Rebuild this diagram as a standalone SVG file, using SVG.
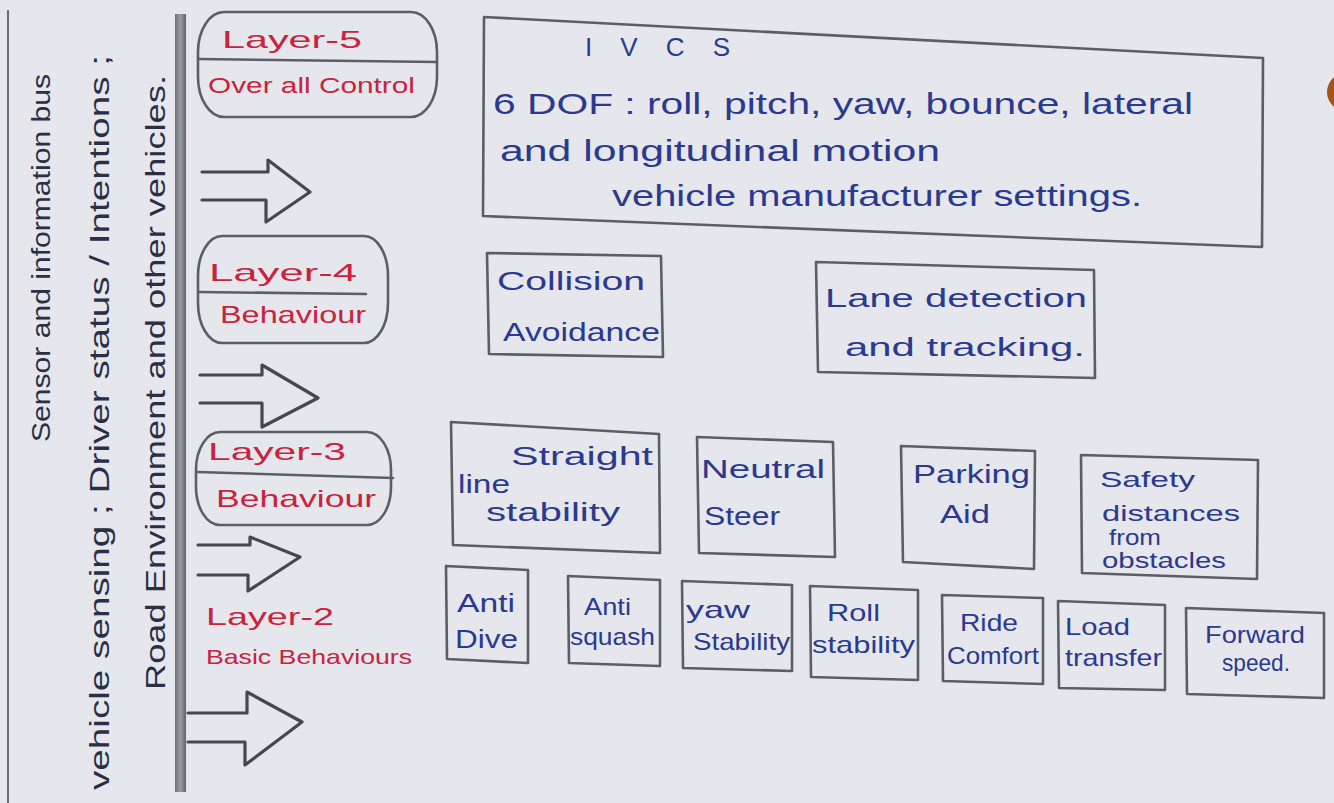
<svg xmlns="http://www.w3.org/2000/svg" width="1334" height="803" viewBox="0 0 1334 803">
<defs>
<style>
.pen{fill:none;stroke:#5b5e64;stroke-width:2.6;stroke-linejoin:round;stroke-linecap:round}
.arrow{fill:none;stroke:#45484e;stroke-width:3.2;stroke-linejoin:round;stroke-linecap:round}
.blue{font-family:"Liberation Sans","DejaVu Sans",sans-serif;fill:#2b3a8f;lengthAdjust:spacingAndGlyphs}
.red{font-family:"Liberation Sans","DejaVu Sans",sans-serif;fill:#c8233f}
.side{font-family:"Liberation Sans","DejaVu Sans",sans-serif;fill:#2a2f45}
</style>
<linearGradient id="bar" x1="0" y1="0" x2="1" y2="0">
<stop offset="0" stop-color="#6c6f75"/><stop offset="0.5" stop-color="#9a9da3"/><stop offset="1" stop-color="#5f6268"/>
</linearGradient>
</defs>
<rect width="1334" height="803" fill="#e5e7ec"/>
<circle cx="1346" cy="92" r="19" fill="#a55318"/>

<g id="bus">
<line x1="8" y1="10" x2="8" y2="803" stroke="#6a6d73" stroke-width="2"/>
<rect x="175" y="14" width="11" height="778" fill="url(#bar)"/>
<text class="side" font-size="26" transform="translate(50,442) rotate(-90)" textLength="368" lengthAdjust="spacingAndGlyphs">Sensor and information bus</text>
<text class="side" font-size="28" transform="translate(109,790) rotate(-90)" textLength="735" lengthAdjust="spacingAndGlyphs">vehicle sensing ; Driver status / Intentions ;</text>
<text class="side" font-size="28" transform="translate(165,690) rotate(-90)" textLength="615" lengthAdjust="spacingAndGlyphs">Road Environment and other vehicles.</text>
</g>

<g id="layer5">
<rect class="pen" x="198" y="12" width="239" height="105" rx="26" ry="40"/>
<line class="pen" x1="199" y1="59" x2="437" y2="62"/>
<text class="red" font-size="24" x="222" y="48" textLength="140" lengthAdjust="spacingAndGlyphs">Layer-5</text>
<text class="red" font-size="22" x="208" y="93" textLength="207" lengthAdjust="spacingAndGlyphs">Over all Control</text>
</g>
<g id="layer4">
<rect class="pen" x="198" y="236" width="190" height="107" rx="24" ry="40"/>
<line class="pen" x1="199" y1="292" x2="366" y2="294"/>
<text class="red" font-size="24" x="209" y="281" textLength="148" lengthAdjust="spacingAndGlyphs">Layer-4</text>
<text class="red" font-size="24" x="220" y="323" textLength="146" lengthAdjust="spacingAndGlyphs">Behaviour</text>
</g>
<g id="layer3">
<rect class="pen" x="196" y="432" width="195" height="93" rx="24" ry="38"/>
<line class="pen" x1="197" y1="472" x2="393" y2="478"/>
<text class="red" font-size="24" x="208" y="460" textLength="138" lengthAdjust="spacingAndGlyphs">Layer-3</text>
<text class="red" font-size="24" x="216" y="507" textLength="160" lengthAdjust="spacingAndGlyphs">Behaviour</text>
</g>
<g id="layer2">
<text class="red" font-size="24" x="206" y="625" textLength="128" lengthAdjust="spacingAndGlyphs">Layer-2</text>
<text class="red" font-size="21" x="206" y="664" textLength="206" lengthAdjust="spacingAndGlyphs">Basic Behaviours</text>
</g>

<g id="connectors">
<path class="arrow" d="M202,172 L268,172 L268,160 L310,192 L266,222 L266,200 L202,200"/>
<path class="arrow" d="M200,375 L262,375 L262,365 L318,398 L262,427 L262,403 L200,403"/>
<path class="arrow" d="M198,545 L250,545 L250,537 L300,557 L248,591 L248,575 L198,575"/>
<path class="arrow" d="M188,713 L247,713 L247,692 L302,722 L245,765 L245,742 L188,742"/>
</g>

<g id="ivcs">
<polygon class="pen" points="484,17 1263,58 1262,247 483,216"/>
<text class="blue" font-size="26" x="585" y="56" textLength="145" lengthAdjust="spacing">I V C S</text>
<text class="blue" font-size="30" x="493" y="114" textLength="700" lengthAdjust="spacingAndGlyphs">6 DOF : roll, pitch, yaw, bounce, lateral</text>
<text class="blue" font-size="30" x="500" y="161" textLength="440" lengthAdjust="spacingAndGlyphs">and longitudinal motion</text>
<text class="blue" font-size="30" x="612" y="206" textLength="530" lengthAdjust="spacingAndGlyphs">vehicle manufacturer settings.</text>
</g>

<g id="collision">
<polygon class="pen" points="487,253 661,256 663,357 489,354"/>
<text class="blue" font-size="26" x="497" y="290" textLength="148" lengthAdjust="spacingAndGlyphs">Collision</text>
<text class="blue" font-size="26" x="503" y="341" textLength="157" lengthAdjust="spacingAndGlyphs">Avoidance</text>
</g>
<g id="lane">
<polygon class="pen" points="816,262 1094,270 1095,378 818,372"/>
<text class="blue" font-size="26" x="825" y="307" textLength="262" lengthAdjust="spacingAndGlyphs">Lane detection</text>
<text class="blue" font-size="26" x="845" y="356" textLength="240" lengthAdjust="spacingAndGlyphs">and tracking.</text>
</g>

<g id="straight">
<polygon class="pen" points="451,422 659,434 660,553 453,545"/>
<text class="blue" font-size="26" x="511" y="465" textLength="142" lengthAdjust="spacingAndGlyphs">Straight</text>
<text class="blue" font-size="26" x="458" y="493" textLength="52" lengthAdjust="spacingAndGlyphs">line</text>
<text class="blue" font-size="26" x="486" y="521" textLength="134" lengthAdjust="spacingAndGlyphs">stability</text>
</g>
<g id="neutral">
<polygon class="pen" points="697,437 833,442 835,557 699,553"/>
<text class="blue" font-size="26" x="701" y="478" textLength="124" lengthAdjust="spacingAndGlyphs">Neutral</text>
<text class="blue" font-size="26" x="704" y="525" textLength="76" lengthAdjust="spacingAndGlyphs">Steer</text>
</g>
<g id="parking">
<polygon class="pen" points="901,446 1035,451 1034,569 903,562"/>
<text class="blue" font-size="26" x="913" y="483" textLength="117" lengthAdjust="spacingAndGlyphs">Parking</text>
<text class="blue" font-size="26" x="940" y="523" textLength="50" lengthAdjust="spacingAndGlyphs">Aid</text>
</g>
<g id="safety">
<polygon class="pen" points="1081,455 1258,460 1257,579 1082,573"/>
<text class="blue" font-size="22" x="1100" y="487" textLength="95" lengthAdjust="spacingAndGlyphs">Safety</text>
<text class="blue" font-size="22" x="1102" y="521" textLength="138" lengthAdjust="spacingAndGlyphs">distances</text>
<text class="blue" font-size="22" x="1109" y="545" textLength="52" lengthAdjust="spacingAndGlyphs">from</text>
<text class="blue" font-size="22" x="1102" y="568" textLength="124" lengthAdjust="spacingAndGlyphs">obstacles</text>
</g>

<g id="antidive">
<polygon class="pen" points="446,566 528,570 528,663 447,659"/>
<text class="blue" font-size="26" x="457" y="612" textLength="58" lengthAdjust="spacingAndGlyphs">Anti</text>
<text class="blue" font-size="26" x="455" y="648" textLength="63" lengthAdjust="spacingAndGlyphs">Dive</text>
</g>
<g id="antisquash">
<polygon class="pen" points="568,576 660,580 660,666 569,663"/>
<text class="blue" font-size="24" x="584" y="615" textLength="47" lengthAdjust="spacingAndGlyphs">Anti</text>
<text class="blue" font-size="24" x="570" y="645" textLength="85" lengthAdjust="spacingAndGlyphs">squash</text>
</g>
<g id="yaw">
<polygon class="pen" points="682,581 792,585 792,671 683,668"/>
<text class="blue" font-size="24" x="686" y="618" textLength="64" lengthAdjust="spacingAndGlyphs">yaw</text>
<text class="blue" font-size="24" x="693" y="650" textLength="97" lengthAdjust="spacingAndGlyphs">Stability</text>
</g>
<g id="roll">
<polygon class="pen" points="810,586 918,590 918,680 811,677"/>
<text class="blue" font-size="24" x="827" y="621" textLength="53" lengthAdjust="spacingAndGlyphs">Roll</text>
<text class="blue" font-size="24" x="812" y="653" textLength="103" lengthAdjust="spacingAndGlyphs">stability</text>
</g>
<g id="ride">
<polygon class="pen" points="942,595 1043,598 1043,684 943,681"/>
<text class="blue" font-size="24" x="960" y="631" textLength="58" lengthAdjust="spacingAndGlyphs">Ride</text>
<text class="blue" font-size="24" x="947" y="664" textLength="92" lengthAdjust="spacingAndGlyphs">Comfort</text>
</g>
<g id="load">
<polygon class="pen" points="1058,601 1165,605 1165,690 1059,688"/>
<text class="blue" font-size="24" x="1065" y="635" textLength="65" lengthAdjust="spacingAndGlyphs">Load</text>
<text class="blue" font-size="24" x="1065" y="666" textLength="97" lengthAdjust="spacingAndGlyphs">transfer</text>
</g>
<g id="forward">
<polygon class="pen" points="1186,608 1324,613 1324,698 1187,694"/>
<text class="blue" font-size="24" x="1205" y="643" textLength="100" lengthAdjust="spacingAndGlyphs">Forward</text>
<text class="blue" font-size="24" x="1222" y="671" textLength="68" lengthAdjust="spacingAndGlyphs">speed.</text>
</g>
</svg>
